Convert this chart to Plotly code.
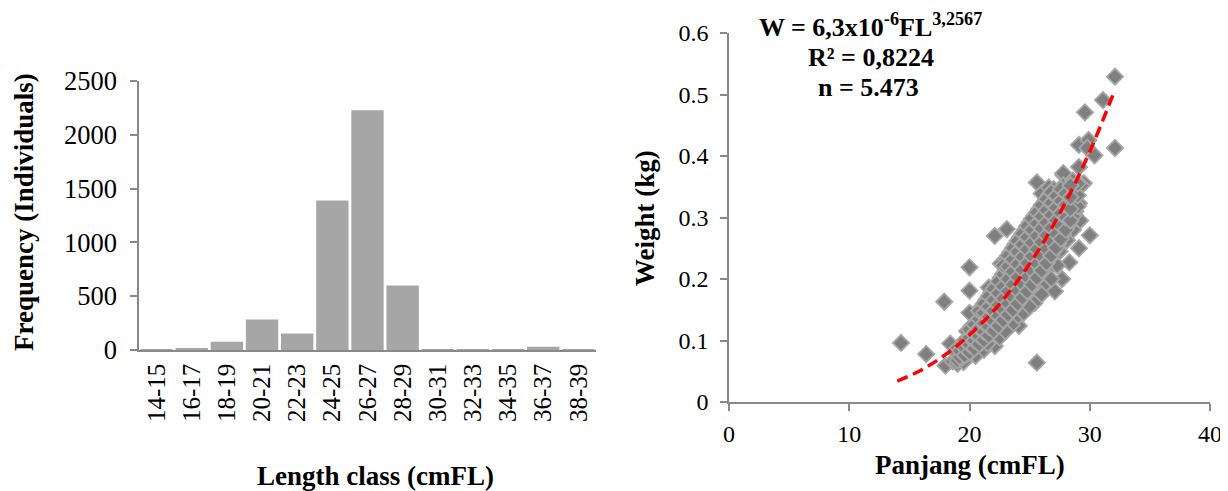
import plotly.graph_objects as go

# ---------------- data ----------------
length_classes = ["14-15", "16-17", "18-19", "20-21", "22-23", "24-25", "26-27",
                  "28-29", "30-31", "32-33", "34-35", "36-37", "38-39"]
frequency = [3, 11, 77, 284, 154, 1389, 2228, 599, 8, 2, 2, 31, 6]

# scattered individual fish (length cmFL, weight kg)
outlier_points = [
    (14.3, 0.096), (16.4, 0.078), (17.9, 0.163), (18.0, 0.059), (18.4, 0.095),
    (20.0, 0.219), (20.0, 0.181), (20.0, 0.145), (20.2, 0.124), (20.8, 0.132),
    (21.6, 0.186), (21.6, 0.160), (22.1, 0.270), (22.1, 0.091), (23.1, 0.281),
    (25.6, 0.357), (25.6, 0.064), (26.0, 0.339), (26.6, 0.349), (27.8, 0.369),
    (27.8, 0.372), (29.5, 0.356), (29.3, 0.352), (29.1, 0.382), (29.1, 0.418),
    (29.9, 0.426), (29.8, 0.413), (30.4, 0.401), (29.6, 0.471), (31.1, 0.491),
    (32.1, 0.529), (32.1, 0.413), (30.0, 0.271), (29.1, 0.250), (28.3, 0.227),
    (28.1, 0.263), (29.2, 0.295), (29.1, 0.323), (27.7, 0.200), (27.1, 0.180),
    (24.1, 0.124), (25.4, 0.161), (24.2, 0.170), (24.9, 0.200), (25.6, 0.197),
    (23.3, 0.153), (22.3, 0.135), (21.9, 0.116), (23.8, 0.135), (26.5, 0.215),
    (27.5, 0.245), (26.2, 0.190), (22.6, 0.225), (23.5, 0.125), (24.5, 0.145),
    (25.0, 0.155), (26.0, 0.175), (26.8, 0.200), (27.3, 0.222), (28.6, 0.280),
    (28.8, 0.310), (18.6, 0.066), (19.0, 0.062), (19.5, 0.065), (20.5, 0.075),
    (21.2, 0.085), (21.5, 0.095), (22.5, 0.105), (23.0, 0.115),
]

# dense body of the cloud
core_points = [
    (19.0, 0.068), (19.0, 0.078), (19.0, 0.088),
    (19.4, 0.072), (19.4, 0.083), (19.4, 0.095),
    (19.8, 0.078), (19.8, 0.090), (19.8, 0.102), (19.8, 0.115),
    (20.2, 0.083), (20.2, 0.096), (20.2, 0.108), (20.2, 0.122),
    (20.6, 0.090), (20.6, 0.103), (20.6, 0.116), (20.6, 0.130),
    (21.0, 0.097), (21.0, 0.110), (21.0, 0.124), (21.0, 0.140), (21.0, 0.155),
    (21.4, 0.104), (21.4, 0.118), (21.4, 0.133), (21.4, 0.150), (21.4, 0.166),
    (21.8, 0.112), (21.8, 0.127), (21.8, 0.143), (21.8, 0.160), (21.8, 0.178),
    (22.2, 0.120), (22.2, 0.136), (22.2, 0.153), (22.2, 0.171), (22.2, 0.190),
    (22.6, 0.128), (22.6, 0.145), (22.6, 0.163), (22.6, 0.182), (22.6, 0.202),
    (23.0, 0.137), (23.0, 0.155), (23.0, 0.174), (23.0, 0.194), (23.0, 0.214), (23.0, 0.232),
    (23.4, 0.146), (23.4, 0.165), (23.4, 0.185), (23.4, 0.206), (23.4, 0.226), (23.4, 0.244),
    (23.8, 0.155), (23.8, 0.176), (23.8, 0.197), (23.8, 0.218), (23.8, 0.238), (23.8, 0.256),
    (24.2, 0.165), (24.2, 0.187), (24.2, 0.209), (24.2, 0.230), (24.2, 0.250), (24.2, 0.268),
    (24.6, 0.175), (24.6, 0.198), (24.6, 0.221), (24.6, 0.242), (24.6, 0.262), (24.6, 0.280),
    (25.0, 0.186), (25.0, 0.209), (25.0, 0.232), (25.0, 0.254), (25.0, 0.274), (25.0, 0.292),
    (25.4, 0.197), (25.4, 0.220), (25.4, 0.243), (25.4, 0.265), (25.4, 0.285), (25.4, 0.303),
    (25.8, 0.208), (25.8, 0.231), (25.8, 0.254), (25.8, 0.276), (25.8, 0.296), (25.8, 0.314),
    (26.2, 0.220), (26.2, 0.243), (26.2, 0.265), (26.2, 0.287), (26.2, 0.307), (26.2, 0.325),
    (26.6, 0.232), (26.6, 0.255), (26.6, 0.277), (26.6, 0.298), (26.6, 0.318), (26.6, 0.336),
    (27.0, 0.245), (27.0, 0.267), (27.0, 0.289), (27.0, 0.310), (27.0, 0.329), (27.0, 0.346),
    (27.4, 0.258), (27.4, 0.280), (27.4, 0.301), (27.4, 0.321), (27.4, 0.340),
    (27.8, 0.272), (27.8, 0.293), (27.8, 0.313), (27.8, 0.332), (27.8, 0.352),
    (28.2, 0.287), (28.2, 0.307), (28.2, 0.326), (28.2, 0.345),
    (28.6, 0.302), (28.6, 0.321), (28.6, 0.340), (28.6, 0.360),
    (29.0, 0.318), (29.0, 0.336), (29.0, 0.355),
]

# more fish filling the dense body, between the columns above
core_points_2 = [
    (19.2, 0.073), (19.2, 0.083),
    (19.6, 0.076), (19.6, 0.088), (19.6, 0.100),
    (20.0, 0.081), (20.0, 0.093), (20.0, 0.105), (20.0, 0.118),
    (20.4, 0.087), (20.4, 0.100), (20.4, 0.112), (20.4, 0.126),
    (20.8, 0.094), (20.8, 0.107), (20.8, 0.120), (20.8, 0.135), (20.8, 0.148),
    (21.2, 0.101), (21.2, 0.114), (21.2, 0.128), (21.2, 0.145), (21.2, 0.160),
    (21.6, 0.108), (21.6, 0.122), (21.6, 0.138), (21.6, 0.155), (21.6, 0.172),
    (22.0, 0.116), (22.0, 0.131), (22.0, 0.148), (22.0, 0.166), (22.0, 0.184),
    (22.4, 0.124), (22.4, 0.140), (22.4, 0.158), (22.4, 0.177), (22.4, 0.196),
    (22.8, 0.133), (22.8, 0.150), (22.8, 0.168), (22.8, 0.188), (22.8, 0.208), (22.8, 0.222),
    (23.2, 0.142), (23.2, 0.160), (23.2, 0.180), (23.2, 0.200), (23.2, 0.220), (23.2, 0.238),
    (23.6, 0.150), (23.6, 0.170), (23.6, 0.191), (23.6, 0.212), (23.6, 0.232), (23.6, 0.250),
    (24.0, 0.160), (24.0, 0.181), (24.0, 0.203), (24.0, 0.224), (24.0, 0.244), (24.0, 0.262),
    (24.4, 0.170), (24.4, 0.192), (24.4, 0.215), (24.4, 0.236), (24.4, 0.256), (24.4, 0.274),
    (24.8, 0.180), (24.8, 0.203), (24.8, 0.226), (24.8, 0.248), (24.8, 0.268), (24.8, 0.286),
    (25.2, 0.191), (25.2, 0.214), (25.2, 0.237), (25.2, 0.259), (25.2, 0.280), (25.2, 0.298),
    (25.6, 0.202), (25.6, 0.225), (25.6, 0.248), (25.6, 0.270), (25.6, 0.290), (25.6, 0.308),
    (26.0, 0.214), (26.0, 0.237), (26.0, 0.260), (26.0, 0.282), (26.0, 0.302), (26.0, 0.320),
    (26.4, 0.226), (26.4, 0.249), (26.4, 0.271), (26.4, 0.292), (26.4, 0.312), (26.4, 0.330),
    (26.8, 0.238), (26.8, 0.261), (26.8, 0.283), (26.8, 0.304), (26.8, 0.324), (26.8, 0.341),
    (27.2, 0.251), (27.2, 0.273), (27.2, 0.295), (27.2, 0.316), (27.2, 0.335),
    (27.6, 0.265), (27.6, 0.286), (27.6, 0.307), (27.6, 0.327), (27.6, 0.346),
    (28.0, 0.280), (28.0, 0.300), (28.0, 0.320), (28.0, 0.339),
    (28.4, 0.295), (28.4, 0.314), (28.4, 0.333), (28.4, 0.352),
]

# fitted curve W = 6.3e-6 FL^3.2567
curve_length = [14, 16, 18, 20, 22, 24, 26, 28, 30, 32]
curve_weight = [0.034, 0.052, 0.077, 0.109, 0.148, 0.197, 0.255, 0.325, 0.407, 0.503]

y1_ticks = [0, 500, 1000, 1500, 2000, 2500]

# ---------------- figure ----------------
# the page body has an 8px default margin, so the figure is 8px smaller and
# every reference pixel position below is shifted by that offset
OFF = 8
W, H = 1228 - OFF, 491 - OFF
FONT = "Liberation Serif"
AX = "#898989"


def fx(px):
    return (px - OFF) / W


def fy(py):
    return 1 - (py - OFF) / H


pts = outlier_points + core_points + core_points_2
fish_length = [p[0] for p in pts]
fish_weight = [p[1] for p in pts]

fig = go.Figure()
fig.add_trace(go.Bar(
    x=length_classes, y=frequency, xaxis="x", yaxis="y",
    marker=dict(color="#a6a6a6", line=dict(width=0)),
))
fig.add_trace(go.Scatter(
    x=fish_length, y=fish_weight, xaxis="x2", yaxis="y2", mode="markers",
    marker=dict(symbol="diamond", size=12.5, color="#7f7f7f",
                line=dict(color="#a6a6a6", width=1.8)),
))
fig.add_trace(go.Scatter(
    x=curve_length, y=curve_weight, xaxis="x2", yaxis="y2", mode="lines",
    line=dict(color="#ff0000", width=3.5, dash="11px,6px", shape="spline"),
))

common = dict(showline=True, linecolor=AX, linewidth=1.5, tickcolor=AX,
              tickwidth=1.5, showgrid=False, zeroline=False, automargin=False)

fig.update_layout(
    template="none",
    width=W, height=H,
    margin=dict(l=0, r=0, t=0, b=0, pad=0, autoexpand=False),
    paper_bgcolor="white", plot_bgcolor="white",
    showlegend=False, bargap=0.08,
    font=dict(family=FONT, color="black"),
    xaxis=dict(
        domain=[fx(139), fx(596)], anchor="y", type="category",
        ticks="", tickangle=-90, ticklabelstandoff=2,
        tickfont=dict(family=FONT, size=25, color="black"), **common,
    ),
    yaxis=dict(
        domain=[fy(350), fy(81)], anchor="x", range=[0, 2500],
        tickvals=y1_ticks, ticktext=[str(v) for v in y1_ticks],
        ticks="outside", ticklen=7, ticklabelstandoff=8,
        tickfont=dict(family=FONT, size=26.5, color="black"), **common,
    ),
    xaxis2=dict(
        domain=[fx(729), fx(1210)], anchor="y2", range=[0, 40], dtick=10,
        ticks="outside", ticklen=7, ticklabelstandoff=2,
        tickfont=dict(family=FONT, size=24, color="black"), **common,
    ),
    yaxis2=dict(
        domain=[fy(402), fy(33)], anchor="x2", range=[0, 0.6], dtick=0.1,
        ticks="outside", ticklen=7, ticklabelstandoff=7,
        tickfont=dict(family=FONT, size=24, color="black"), **common,
    ),
)

title_font = dict(family=FONT, size=27, color="black")


def ann(text, px, py, angle=0, size=27):
    fig.add_annotation(
        text=text, x=fx(px), y=fy(py), xref="paper", yref="paper",
        xanchor="center", yanchor="middle", showarrow=False,
        textangle=angle, font=dict(family=FONT, size=size, color="black"),
    )


ann("<b>Frequency (Individuals)</b>", 24, 212, -90)
ann("<b>Length class (cmFL)</b>", 375, 476)
ann("<b>Weight (kg)</b>", 645, 218, -90)
ann("<b>Panjang (cmFL)</b>", 970, 465)
ann("<b>W = 6,3x10<sup>-6</sup>FL<sup>3,2567</sup></b>", 870, 25, size=26)
ann("<b>R² = 0,8224</b>", 871, 57, size=26)
ann("<b>n = 5.473</b>", 868, 88, size=26)

fig.write_html("out.html")
